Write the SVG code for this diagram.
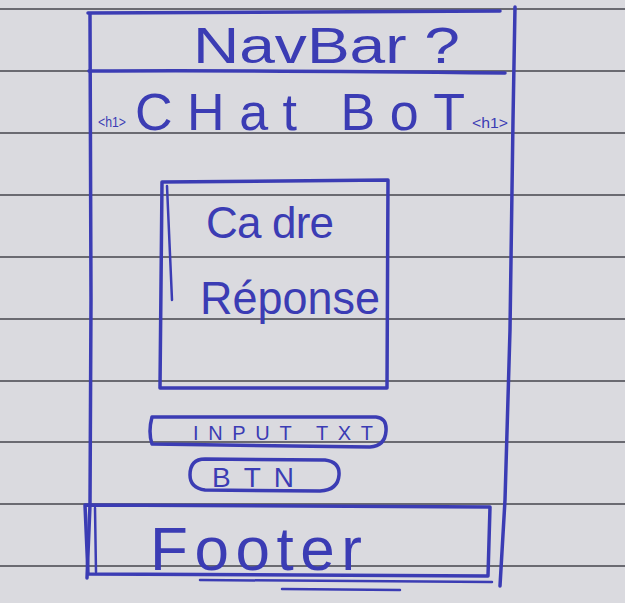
<svg xmlns="http://www.w3.org/2000/svg" width="625" height="603" viewBox="0 0 625 603">
<style>
.pen{fill:none;stroke:#3b3cb4;stroke-linecap:round;stroke-linejoin:round}
.thin{stroke-width:2.5}
.thick{stroke-width:3.5}
.rule{stroke:#45454d;stroke-width:1.6}
.hand{font-family:"Liberation Sans","DejaVu Sans",sans-serif;fill:#3b3cb4}
</style>
<rect width="625" height="603" fill="#dadadf"/>
<g id="paper">
<line class="rule" x1="0" y1="9" x2="625" y2="9"/>
<line class="rule" x1="0" y1="71" x2="625" y2="71"/>
<line class="rule" x1="0" y1="133" x2="625" y2="133"/>
<line class="rule" x1="0" y1="195" x2="625" y2="195"/>
<line class="rule" x1="0" y1="257" x2="625" y2="257"/>
<line class="rule" x1="0" y1="319" x2="625" y2="319"/>
<line class="rule" x1="0" y1="381" x2="625" y2="381"/>
<line class="rule" x1="0" y1="442" x2="625" y2="442"/>
<line class="rule" x1="0" y1="504" x2="625" y2="504"/>
<line class="rule" x1="0" y1="566" x2="625" y2="566"/>
</g>
<g id="frame">
<path class="pen thick" d="M88,13 L500,11"/>
<path class="pen thick" d="M90,14 L91,300 L90,505 L87,578"/>
<path class="pen thick" d="M515,7 L513,120 L510,330 L505,500 L500,586"/>
</g>
<g id="navbar">
<path class="pen thick" d="M89,71 Q250,70 505,73"/>
<text class="hand" x="193" y="63" font-size="50" textLength="267" lengthAdjust="spacingAndGlyphs">NavBar ?</text>
</g>
<g id="chatbot">
<text class="hand" x="98" y="127" font-size="15" textLength="28" lengthAdjust="spacingAndGlyphs">&lt;h1&gt;</text>
<text class="hand" x="300" y="130" font-size="52" text-anchor="middle" textLength="330" lengthAdjust="spacing">CHat BoT</text>
<text class="hand" x="472" y="128" font-size="15" textLength="36" lengthAdjust="spacingAndGlyphs">&lt;h1&gt;</text>
</g>
<g id="cadre">
<path class="pen thick" d="M162,182 L388,180 L387,388 L160,388 Z"/>
<path class="pen thin" d="M167,186 L172,300"/>
<text class="hand" x="270" y="238" font-size="44" text-anchor="middle" textLength="128" lengthAdjust="spacing">Ca dre</text>
<text class="hand" x="290" y="314" font-size="46" text-anchor="middle" textLength="180" lengthAdjust="spacingAndGlyphs">Réponse</text>
</g>
<g id="input">
<path class="pen thick" d="M152,417 L376,417 Q387,418 386,431 Q385,446 370,447 L152,444 Q148,432 152,417 Z"/>
<text class="hand" x="283" y="440" font-size="20" text-anchor="middle" textLength="180" lengthAdjust="spacing">INPUT TXT</text>
</g>
<g id="btn">
<path class="pen thick" d="M205,459 L325,460 Q340,462 339,475 Q338,490 320,491 L205,490 Q190,488 190,475 Q190,459 205,459 Z"/>
<text class="hand" x="253" y="487" font-size="28" text-anchor="middle" textLength="82" lengthAdjust="spacing">BTN</text>
</g>
<g id="footer">
<path class="pen thick" d="M85,505 L490,507 L488,576 L88,574 Z"/>
<path class="pen thin" d="M95,508 L96,572"/>
<path class="pen thin" d="M200,580 L492,582"/>
<path class="pen thin" d="M282,589 L400,590"/>
<text class="hand" x="256" y="570" font-size="62" text-anchor="middle" textLength="212" lengthAdjust="spacing">Footer</text>
</g>
</svg>
